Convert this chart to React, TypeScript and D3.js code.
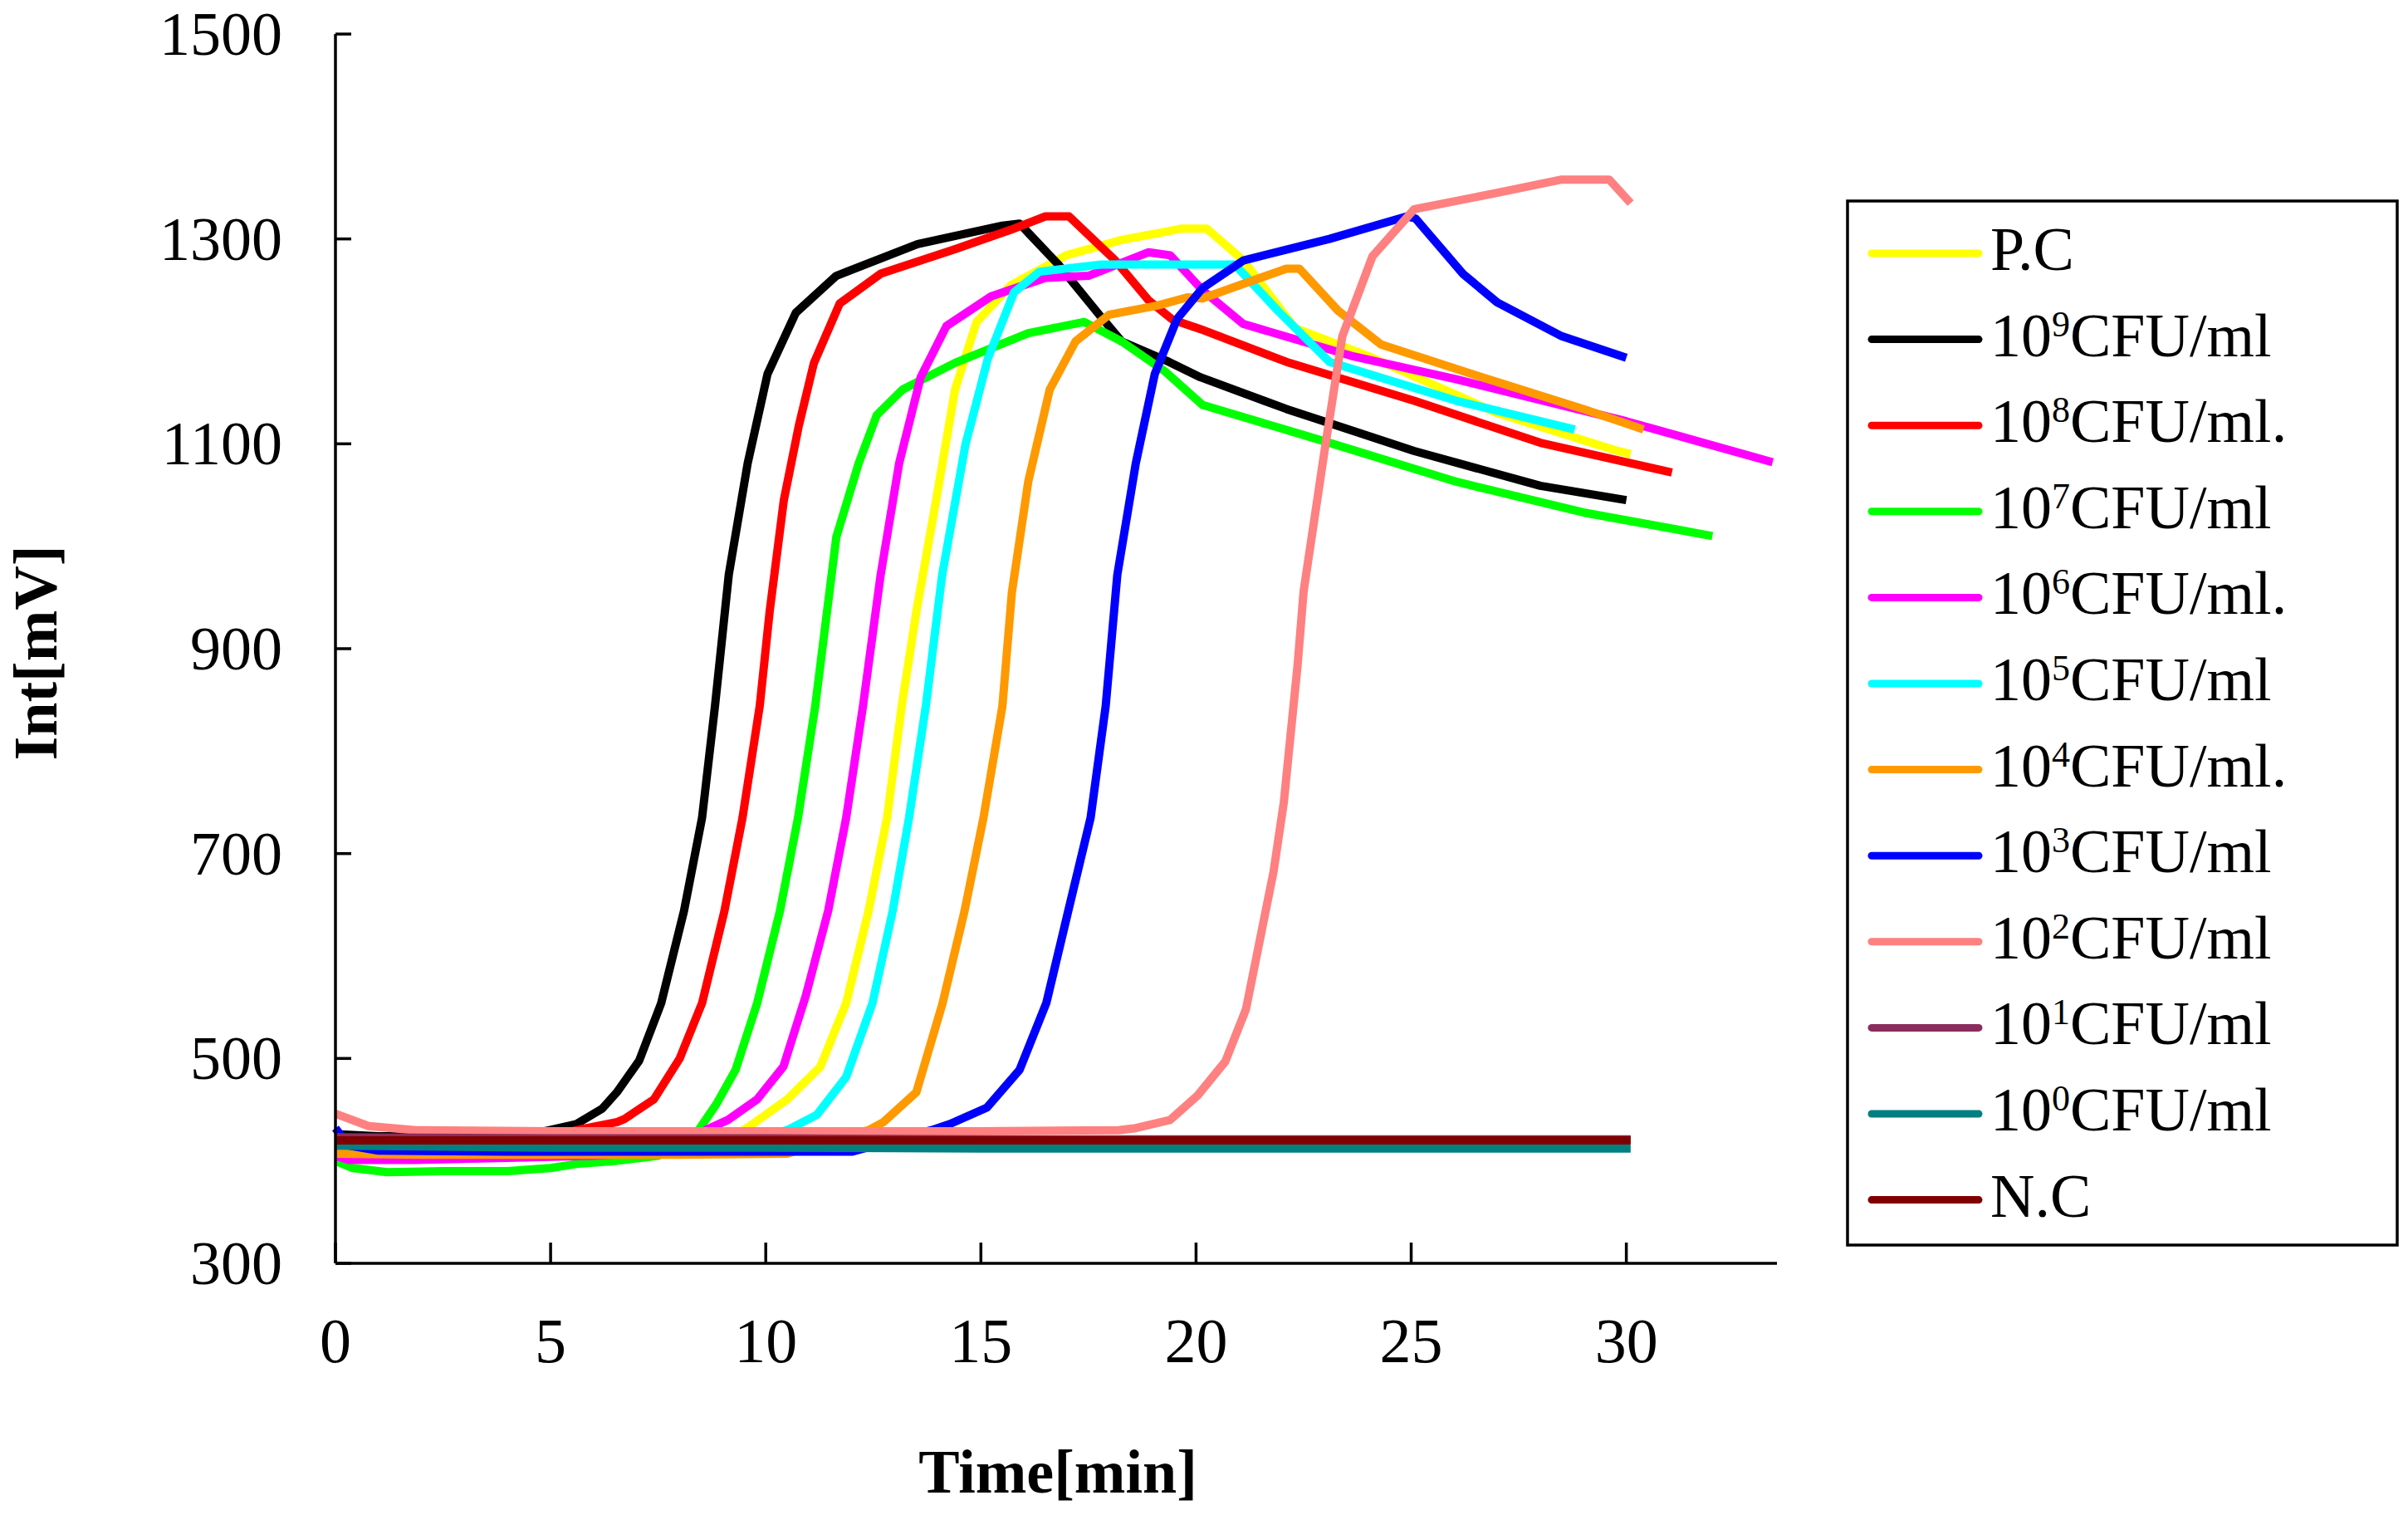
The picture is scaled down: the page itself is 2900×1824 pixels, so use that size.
import React from "react";
import * as d3 from "d3";

type Pt = [number, number];

const xTicks = [0, 5, 10, 15, 20, 25, 30];
const yTicks = [300, 500, 700, 900, 1100, 1300, 1500];

const seriesLabels = ["P.C", "10", "10", "10", "10", "10", "10", "10", "10", "10", "10", "N.C"];
const seriesExponents = ["", "9", "8", "7", "6", "5", "4", "3", "2", "1", "0", ""];
const seriesSuffix = ["", "CFU/ml", "CFU/ml.", "CFU/ml", "CFU/ml.", "CFU/ml", "CFU/ml.", "CFU/ml", "CFU/ml", "CFU/ml", "CFU/ml", ""];
const seriesColors = ["#ffff00", "#000000", "#ff0000", "#00ff00", "#ff00ff", "#00ffff", "#ff9900", "#0000ff", "#ff8080", "#8b2d5c", "#008080", "#800000"];

const pc: Pt[] = [[0,413],[1,412],[3,412],[5,412],[7,413],[8.5,415],[9.3,425],[9.63,434],[10.5,460],[11.27,492],[11.87,554],[12.39,644],[12.82,735],[13.16,844],[13.5,936],[13.96,1045],[14.4,1153],[14.9,1219],[15.7,1255],[16.98,1284],[18.27,1299],[19.17,1306],[19.65,1310],[20.25,1310],[21.1,1279],[22.3,1213],[24.1,1184],[27.0,1130],[29.8,1093],[30.1,1090]];
const e9: Pt[] = [[0,426],[1,424],[2,424],[3,425],[4,425],[4.76,428],[5.6,436],[6.2,451],[6.54,467],[7.06,498],[7.57,554],[8.1,644],[8.52,735],[8.82,844],[9.14,972],[9.58,1081],[10.04,1168],[10.7,1228],[11.64,1264],[13.53,1295],[15.5,1313],[15.9,1315],[16.1,1306],[16.8,1275],[17.75,1226],[18.27,1200],[19.37,1180],[20.1,1165],[22.1,1134],[25.07,1093],[28.0,1059],[30.0,1045]];
const e8: Pt[] = [[0,422],[2,422],[4,423],[5.2,426],[5.72,431],[6.55,438],[6.72,441],[7.4,460],[8.0,500],[8.52,554],[9.04,644],[9.46,735],[9.86,844],[10.09,936],[10.42,1045],[10.77,1118],[11.12,1179],[11.72,1237],[12.67,1266],[14.4,1290],[15.7,1309],[16.5,1322],[17.05,1322],[18.1,1280],[18.9,1240],[19.46,1221],[20.1,1212],[22.1,1180],[25.07,1142],[28.0,1101],[31.06,1072]];
const e7: Pt[] = [[0,400],[0.4,393],[1.2,389],[2.5,390],[4,390],[5.0,393],[5.6,397],[6.5,400],[7.5,405],[8.0,415],[8.44,430],[8.86,456],[9.3,489],[9.8,554],[10.33,644],[10.75,735],[11.15,844],[11.64,1009],[12.16,1081],[12.58,1128],[13.18,1153],[14.4,1179],[16.1,1208],[17.4,1219],[18.27,1200],[19.27,1171],[20.15,1138],[23.1,1101],[26.05,1063],[29.0,1033],[32.0,1010]];
const e6: Pt[] = [[0,405],[0.3,401],[1.9,401],[4,403],[6,405],[8,410],[8.6,430],[9.12,440],[9.8,460],[10.41,492],[10.93,561],[11.45,644],[11.87,735],[12.26,844],[12.67,972],[13.1,1081],[13.6,1165],[14.2,1215],[15.24,1244],[16.5,1262],[17.5,1264],[18.9,1287],[19.4,1284],[20.15,1250],[21.1,1217],[23.6,1186],[26.05,1163],[30.0,1122],[33.4,1082]];
const e5: Pt[] = [[0,413],[3,412],[6,412],[9,412],[10.5,430],[11.19,445],[11.87,482],[12.48,554],[12.95,644],[13.33,735],[13.72,844],[14.1,972],[14.64,1099],[15.16,1183],[15.77,1248],[16.36,1268],[17.8,1275],[20.1,1275],[20.9,1275],[21.9,1230],[23.1,1180],[26.05,1142],[28.8,1114]];
const e4: Pt[] = [[0,407],[2,406],[5,406],[8,406],[10.5,407],[11.5,420],[12.39,430],[12.74,438],[13.5,467],[14.11,554],[14.62,644],[15.06,735],[15.5,844],[15.72,955],[16.1,1063],[16.6,1153],[17.2,1200],[17.98,1226],[19.1,1235],[19.8,1243],[20.15,1242],[22.1,1271],[22.4,1271],[23.3,1230],[24.3,1197],[26.5,1167],[29.0,1134],[30.4,1114]];
const e3: Pt[] = [[0,432],[0.3,415],[1,410],[4,409],[8,409],[12,409],[13.85,430],[14.28,436],[15.14,452],[15.9,489],[16.52,554],[17.03,644],[17.55,735],[17.9,844],[18.17,972],[18.6,1081],[19.04,1168],[19.56,1222],[20.15,1252],[21.1,1279],[23.1,1300],[24.9,1322],[25.1,1320],[26.2,1266],[27.0,1238],[28.5,1205],[30.0,1184]];
const e2: Pt[] = [[0,446],[0.77,434],[1.87,430],[5,429],[10,429],[15,429],[18.2,430],[18.6,432],[19.4,440],[20.04,464],[20.68,497],[21.16,548],[21.48,615],[21.8,682],[22.04,750],[22.2,817],[22.36,884],[22.5,956],[23.0,1097],[23.4,1205],[24.1,1283],[25.07,1329],[27.0,1345],[28.5,1358],[29.6,1358],[30.1,1335]];
const e1: Pt[] = [[0,423],[5,422],[10,422],[15,421],[20,421],[25,421],[30.1,421]];
const e0: Pt[] = [[0,415],[5,413],[10,413],[15,412],[20,412],[25,412],[30.1,412]];
const nc: Pt[] = [[0,420],[5,420],[10,420],[15,420],[20,420],[25,420],[30.1,420]];

const seriesData: Pt[][] = [pc, e9, e8, e7, e6, e5, e4, e3, e2, e1, e0, nc];

const W = 2900;
const H = 1824;
const FONT = "'Liberation Serif', 'Times New Roman', serif";

export default function App() {
  const x = d3.scaleLinear().domain([0, 33.5]).range([404, 2140]);
  const y = d3.scaleLinear().domain([300, 1500]).range([1521, 41]);
  const line = d3
    .line<Pt>()
    .x((d) => x(d[0]))
    .y((d) => y(d[1]))
    .curve(d3.curveLinear);

  const legX0 = 2254;
  const legX1 = 2383;
  const legY0 = 305;
  const legStep = 103.6;

  return (
    <div style={{ position: "absolute", left: 0, top: 0 }}>
      <svg width={W} height={H} viewBox={`0 0 ${W} ${H}`} style={{ display: "block", background: "#fff" }}>
        <rect x={0} y={0} width={W} height={H} fill="#fff" />
        {/* series */}
        <g fill="none" strokeWidth={10} strokeLinejoin="round" strokeLinecap="butt">
          {seriesData.map((d, i) => (
            <path key={i} d={line(d) || ""} stroke={seriesColors[i]} />
          ))}
        </g>
        {/* axes */}
        <g stroke="#000" strokeWidth={3.5}>
          <line x1={x(0)} x2={x(0)} y1={y(1500)} y2={y(300)} />
          <line x1={x(0)} x2={x(33.5)} y1={y(300)} y2={y(300)} />
          {yTicks.map((t) => (
            <line key={"yt" + t} x1={x(0)} x2={x(0) + 19} y1={y(t)} y2={y(t)} />
          ))}
          {xTicks.map((t) => (
            <line key={"xt" + t} x1={x(t)} x2={x(t)} y1={y(300)} y2={y(300) - 25} />
          ))}
        </g>
        <g fontFamily={FONT} fill="#000">
          {yTicks.map((t) => (
            <text key={"yl" + t} x={340} y={y(t) + 25} textAnchor="end" fontSize={74}>
              {t}
            </text>
          ))}
          {xTicks.map((t) => (
            <text key={"xl" + t} x={x(t)} y={1640} textAnchor="middle" fontSize={76}>
              {t}
            </text>
          ))}
        </g>
        <text x={1274} y={1797} textAnchor="middle" fontFamily={FONT} fontSize={74} fontWeight="bold">
          Time[min]
        </text>
        <text
          transform={`translate(68, 786) rotate(-90)`}
          textAnchor="middle"
          fontFamily={FONT}
          fontSize={74}
          fontWeight="bold"
        >
          Int[mV]
        </text>
        {/* legend */}
        <rect x={2225} y={242} width={662} height={1257} fill="#fff" stroke="#000" strokeWidth={3.5} />
        {seriesColors.map((c, i) => {
          const ly = legY0 + i * legStep;
          return (
            <g key={"lg" + i}>
              <line x1={legX0} x2={legX1} y1={ly} y2={ly} stroke={c} strokeWidth={9} strokeLinecap="round" />
              <text x={2397} y={ly + 20} fontFamily={FONT} fontSize={74} fill="#000">
                <tspan>{seriesLabels[i]}</tspan>
                {seriesExponents[i] !== "" && (
                  <>
                    <tspan fontSize={44} dy={-24}>
                      {seriesExponents[i]}
                    </tspan>
                    <tspan dy={24}>{seriesSuffix[i]}</tspan>
                  </>
                )}
              </text>
            </g>
          );
        })}
      </svg>
    </div>
  );
}
